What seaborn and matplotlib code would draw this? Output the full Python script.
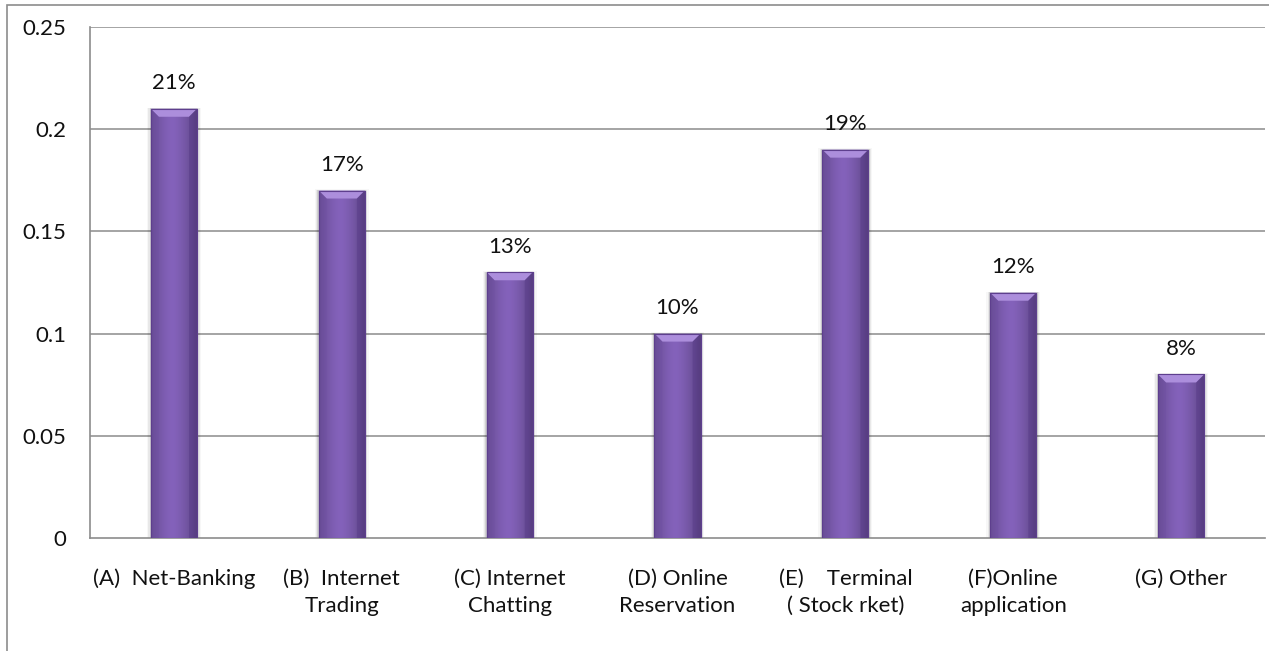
import numpy as np
import pandas as pd
import matplotlib
matplotlib.use("Agg")
import matplotlib.pyplot as plt
import seaborn as sns
from matplotlib.patches import Rectangle, Polygon
from matplotlib.colors import to_rgb

# Share of respondents by type of internet use
categories = [
    "(A)  Net-Banking",
    "(B)  Internet\nTrading",
    "(C) Internet\nChatting",
    "(D) Online\nReservation",
    "(E)    Terminal\n( Stock rket)",
    "(F)Online\napplication",
    "(G) Other",
]
shares = [0.21, 0.17, 0.13, 0.10, 0.19, 0.12, 0.08]
share_labels = ["21%", "17%", "13%", "10%", "19%", "12%", "8%"]
y_ticks = [0, 0.05, 0.1, 0.15, 0.2, 0.25]
y_tick_labels = ["0", "0.05", "0.1", "0.15", "0.2", "0.25"]

df = pd.DataFrame({"category": categories, "share": shares})

sns.set_theme(style="white")
plt.rcParams["font.family"] = ["Lato", "DejaVu Sans"]
FS = 16

W, H, DPI = 1269, 651, 100
fig = plt.figure(figsize=(W / DPI, H / DPI), dpi=DPI)
ax = fig.add_axes([90 / W, 1 - 538 / H, (1265 - 90) / W, (538 - 27) / H])

# outer chart frame
fig.patches.append(Rectangle((7 / W, -0.1), 1.2, 1 - 5 / H + 0.1,
                             transform=fig.transFigure, fill=False,
                             edgecolor="#8c8c8c", linewidth=1.2, zorder=0))

base = "#7f5db5"
sns.barplot(data=df, x="category", y="share", color=base, width=0.275,
            saturation=1, edgecolor="#5e3f8e", linewidth=0.8, ax=ax, zorder=3)

ax.set_ylim(0, 0.25)
ax.set_xlim(-0.5, len(categories) - 0.5)
ax.set_yticks(y_ticks)
ax.set_yticklabels(y_tick_labels, fontsize=FS, color="#111111")
ax.tick_params(axis="y", pad=17, length=0)
ax.tick_params(axis="x", pad=22, length=0)
ax.set_xticks(range(len(categories)))
ax.set_xticklabels(categories, fontsize=FS, color="#111111", linespacing=1.45,
                   va="top")
ax.set_xlabel("")
ax.set_ylabel("")

for y in y_ticks[1:]:
    ax.axhline(y, color="#8c8c8c", linewidth=1.1, zorder=1)
for side in ["top", "right"]:
    ax.spines[side].set_visible(False)
for side in ["left", "bottom"]:
    ax.spines[side].set_color("#8c8c8c")
    ax.spines[side].set_linewidth(1.2)

# shading on each bar: horizontal gradient, light top bevel, soft shadow
fig.canvas.draw()
px_to_y = 0.25 / (538 - 27)
px_to_x = 7.0 / (1265 - 90)
grad = np.linspace(0, 1, 64)
shade = 1 - 0.35 * np.abs(grad - 0.45) ** 1.5 * 2.2
rgb = np.array(to_rgb("#8462bb"))
img = np.clip(rgb[None, None, :] * shade[None, :, None], 0, 1)
for bar, lab in zip(ax.patches, share_labels):
    x0, w, h = bar.get_x(), bar.get_width(), bar.get_height()
    # soft shadow
    for k, a in enumerate([0.10, 0.06, 0.03]):
        s = (k + 1) * 1.3
        ax.add_patch(Rectangle((x0 - s * px_to_x, 0), w + 2 * s * px_to_x,
                               h + s * px_to_y * 0.3, facecolor="#000000",
                               alpha=a, edgecolor="none", zorder=2))
    im = ax.imshow(img, extent=(x0, x0 + w, 0, h), aspect="auto", zorder=3.5,
                   interpolation="bilinear")
    im.set_clip_path(bar)
    bh = 8 * px_to_y
    bw = 8 * px_to_x
    ax.add_patch(Polygon([(x0, h), (x0 + w, h), (x0 + w - bw, h - bh),
                          (x0 + bw, h - bh)], closed=True,
                         facecolor="#ac8edc", edgecolor="none", zorder=4))
    ax.add_patch(Polygon([(x0, h), (x0 + bw, h - bh), (x0 + bw, 0), (x0, 0)],
                         closed=True, facecolor="#6f4fa3", alpha=0.35,
                         edgecolor="none", zorder=4))
    ax.add_patch(Polygon([(x0 + w, h), (x0 + w - bw, h - bh), (x0 + w - bw, 0),
                          (x0 + w, 0)], closed=True, facecolor="#4f3180",
                         alpha=0.35, edgecolor="none", zorder=4))
    ax.add_patch(Rectangle((x0, 0), w, h, fill=False, edgecolor="#5e3f8e",
                           linewidth=0.8, zorder=4.5))
    ax.annotate(lab, (x0 + w / 2, h), xytext=(0, 11), textcoords="offset points",
                ha="center", va="bottom", fontsize=FS, color="#111111")

fig.savefig("out.png", dpi=DPI)
